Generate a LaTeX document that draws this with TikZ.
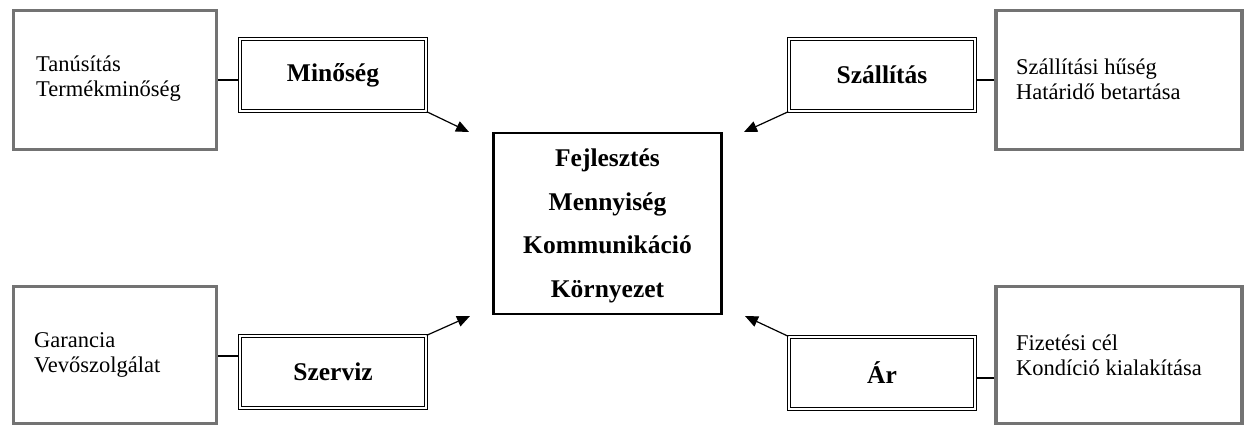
\documentclass[tikz,border=0pt]{standalone}
\usepackage{fontspec}
\setmainfont{Liberation Serif}
\usetikzlibrary{arrows.meta,calc}
\begin{document}
\begin{tikzpicture}[x=1pt,y=1pt,
  outerbox/.style={draw=black!55, line width=3.2pt, minimum width=203pt, inner sep=0pt, fill=white},
  titlebox/.style={draw=black, double=white, double distance=2pt, line width=1.4pt, minimum width=186pt, minimum height=72pt, inner sep=0pt, font=\fontsize{25.5}{28}\selectfont\bfseries},
  smalltext/.style={anchor=west, align=left, inner sep=0pt, font=\fontsize{22.5}{25}\selectfont},
  centerbox/.style={draw=black, line width=2.4pt, minimum width=228pt, minimum height=181pt, inner sep=0pt},
  centertext/.style={align=center, inner sep=0pt, font=\fontsize{25.5}{43.5}\selectfont\bfseries},
  link/.style={line width=2.2pt},
  arr/.style={line width=1.2pt, -{Triangle[length=13pt,width=11pt]}}
]
\useasboundingbox (0,0) rectangle (1246,-426);
% outer boxes
\node[outerbox, minimum height=139pt] (tlbox) at (115,-80) {};
\node[outerbox, minimum height=139pt, minimum width=246pt] (trbox) at (1119,-80) {};
\node[outerbox, minimum height=137pt] (blbox) at (115,-355) {};
\node[outerbox, minimum height=137pt, minimum width=246pt] (brbox) at (1119,-355) {};
% texts in outer boxes
\node[smalltext] (tltext) at (36,-79) {Tanúsítás\\Termékminőség};
\node[smalltext] (trtext) at (1016,-79) {Szállítási hűség\\Határidő betartása};
\node[smalltext] (bltext) at (34,-355) {Garancia\\Vevőszolgálat};
\node[smalltext] (brtext) at (1016,-355) {Fizetési cél\\Kondíció kialakítása};
% title boxes
\node[titlebox] (tltitle) at (333,-75) {Minőség};
\node[titlebox] (trtitle) at (882,-75) {Szállítás};
\node[titlebox] (bltitle) at (333,-372) {Szerviz};
\node[titlebox] (brtitle) at (882,-373) {Ár};
% center
\node[centerbox] (center) at (607.5,-223.5) {};
\node[centertext] (ctext) at (607.5,-226) {Fejlesztés\\Mennyiség\\Kommunikáció\\Környezet};
% links
\draw[link] (tlbox.east) -- (tlbox.east -| tltitle.west);
\draw[link] (trbox.west) -- (trbox.west -| trtitle.east);
\coordinate (blc) at ($(blbox.east)+(0,-1)$);
\draw[link] (blc) -- (blc -| bltitle.west);
\coordinate (brc) at ($(brbox.west)+(0,-23)$);
\draw[link] (brc) -- (brc -| brtitle.east);
% arrows
\coordinate (tltip) at (469,-132);
\coordinate (trtip) at (744,-132);
\coordinate (bltip) at (470,-316);
\coordinate (brtip) at (745,-316);
\draw[arr] (tltitle.south east) -- (tltip);
\draw[arr] (trtitle.south west) -- (trtip);
\draw[arr] (bltitle.north east) -- (bltip);
\draw[arr] (brtitle.north west) -- (brtip);
\end{tikzpicture}
\end{document}
